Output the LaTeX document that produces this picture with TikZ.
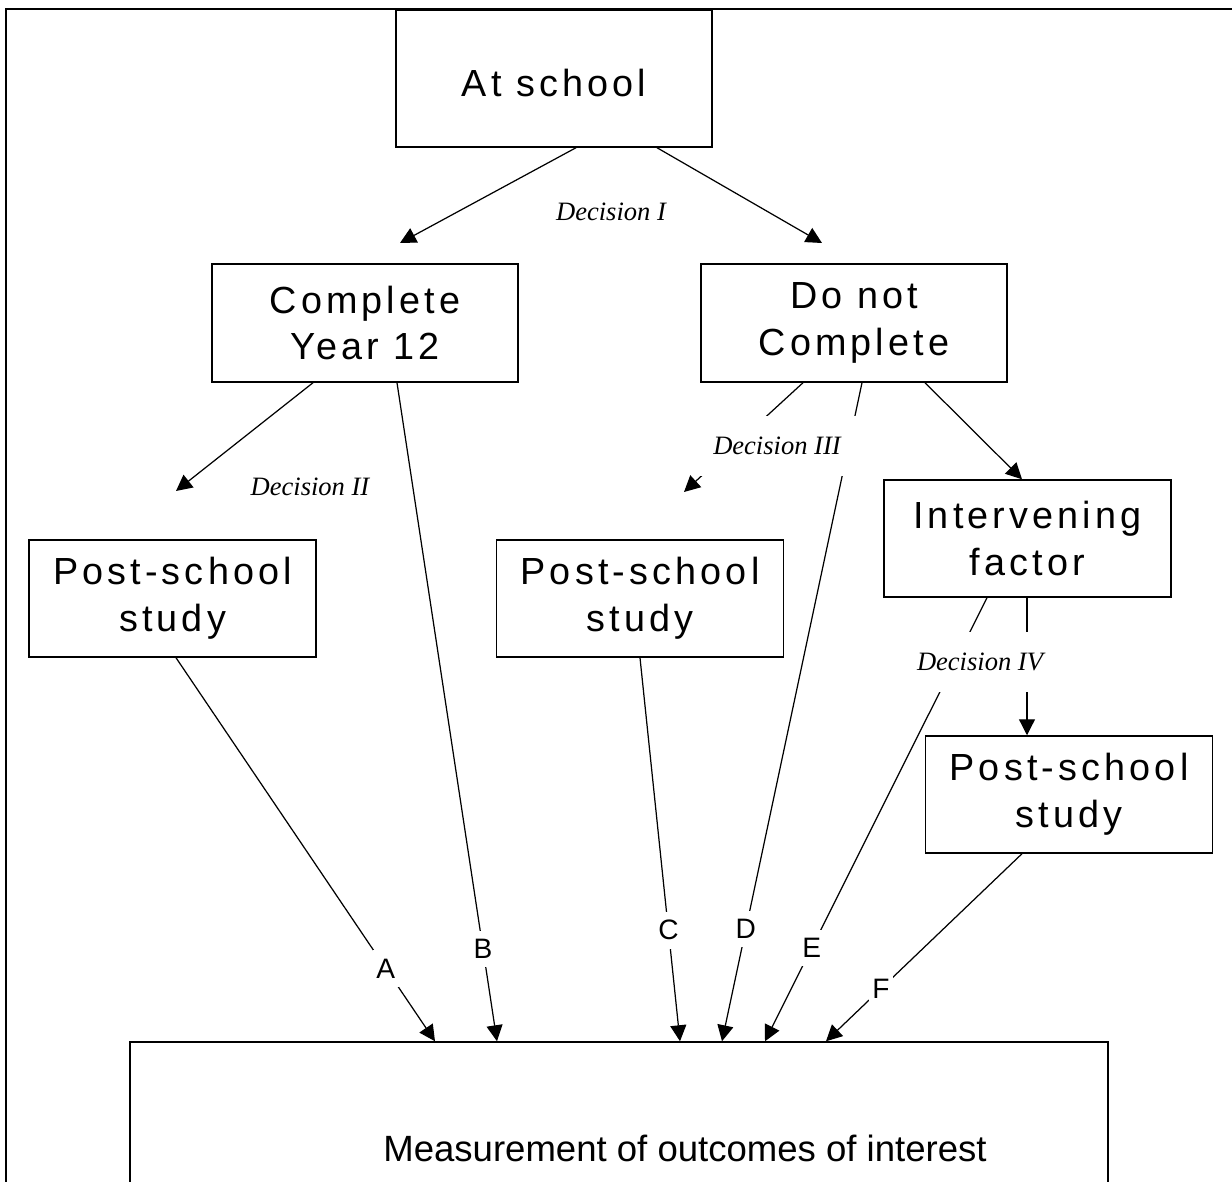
\documentclass[tikz,border=0pt]{standalone}
\usepackage{fontspec}
\setmainfont{Liberation Sans}
\newfontfamily\boxfont[LetterSpace=11]{Liberation Sans}
\newfontfamily\decfont{Liberation Serif}
\usetikzlibrary{arrows.meta}
\tikzset{
  box/.style={draw, line width=0.85pt, align=center, inner sep=0pt,
    font=\boxfont\fontsize{21.5}{26.7}\selectfont},
  wide box/.style={box, minimum width=6.12cm, minimum height=2.36cm},
  small box/.style={box, minimum width=5.74cm, minimum height=2.34cm},
  decision/.style={font=\decfont\itshape\fontsize{15.1}{18}\selectfont},
  gap/.style={decision, fill=white, inner sep=0pt},
  letter/.style={font=\fontsize{16}{18}\selectfont, fill=white, inner xsep=2pt, inner ysep=0.17cm},
  link/.style={line width=0.7pt},
  flow/.style={link, -{Triangle[length=0.32cm, width=0.32cm]}}
}
\begin{document}
\begin{tikzpicture}[x=0.02cm, y=-0.02cm]
  \useasboundingbox (0,0) rectangle (1232,1182);
  \clip (0,0) rectangle (1232,1182);
  \draw[line width=1.6pt] (6,1200) -- (6,9) -- (1250,9);

  \node (school) [box, minimum width=6.32cm, minimum height=2.74cm, text height=0.74cm] at (554,78.5) {At school};
  \node (complete) [wide box] at (365,323) {Complete\\Year 12};
  \node (notdone) [wide box] at (854,323) {Do not\\Complete};
  \node (study1) [small box] at (172.5,598.5) {Post-school\\study};
  \node (study2) [small box] at (640,598.5) {Post-school\\study};
  \node (factor) [small box] at (1027.5,538.5) {Intervening\\factor};
  \node (study3) [small box] at (1069,794.5) {Post-school\\study};
  \node (measure) [draw, line width=0.85pt, minimum width=19.56cm, minimum height=4.24cm,
    font=\fontsize{20.8}{26}\selectfont] at (619,1148) {\hspace*{2.64cm}Measurement of outcomes of interest};

  \coordinate (to complete) at (400,243);
  \coordinate (to notdone) at (822,243);
  \coordinate (to study1) at (176,491);
  \coordinate (to study2) at (684,492);

  \draw[flow] (576,0 |- school.south) -- (to complete);
  \draw[flow] (657,0 |- school.south) -- (to notdone);
  \draw[flow] (313,0 |- complete.south) -- (to study1);
  \draw[flow] (803,0 |- notdone.south) -- (to study2);
  \draw[flow] (925,0 |- notdone.south) -- (1022,0 |- factor.north);
  \draw[flow] (1027,0 |- factor.south) -- (1027,0 |- study3.north);

  \draw[flow] (176,0 |- study1.south) -- (435,0 |- measure.north) node[pos=0.81, letter] {A};
  \draw[flow] (397,0 |- complete.south) -- (497,0 |- measure.north) node[pos=0.86, letter] {B};
  \draw[flow] (640,0 |- study2.south) -- (680,0 |- measure.north) node[pos=0.71, letter] {C};
  \draw[flow] (862,0 |- notdone.south) -- (722,0 |- measure.north) node[pos=0.83, letter] {D};
  \draw[flow] (987,0 |- factor.south) -- (765,0 |- measure.north) node[pos=0.79, letter] {E};
  \draw[flow] (1022,0 |- study3.south) -- (826,0 |- measure.north) node[pos=0.72, letter] {F};

  \node (dec1) [decision] at (611,212) {Decision I};
  \node (dec2) [decision] at (310,487) {Decision II};
  \node (dec3) [gap, minimum width=3.3cm, minimum height=1.2cm] at (777,446) {Decision III};
  \node (dec4) [gap, minimum width=2.7cm, minimum height=1.2cm] at (980,662) {Decision IV};
\end{tikzpicture}
\end{document}
